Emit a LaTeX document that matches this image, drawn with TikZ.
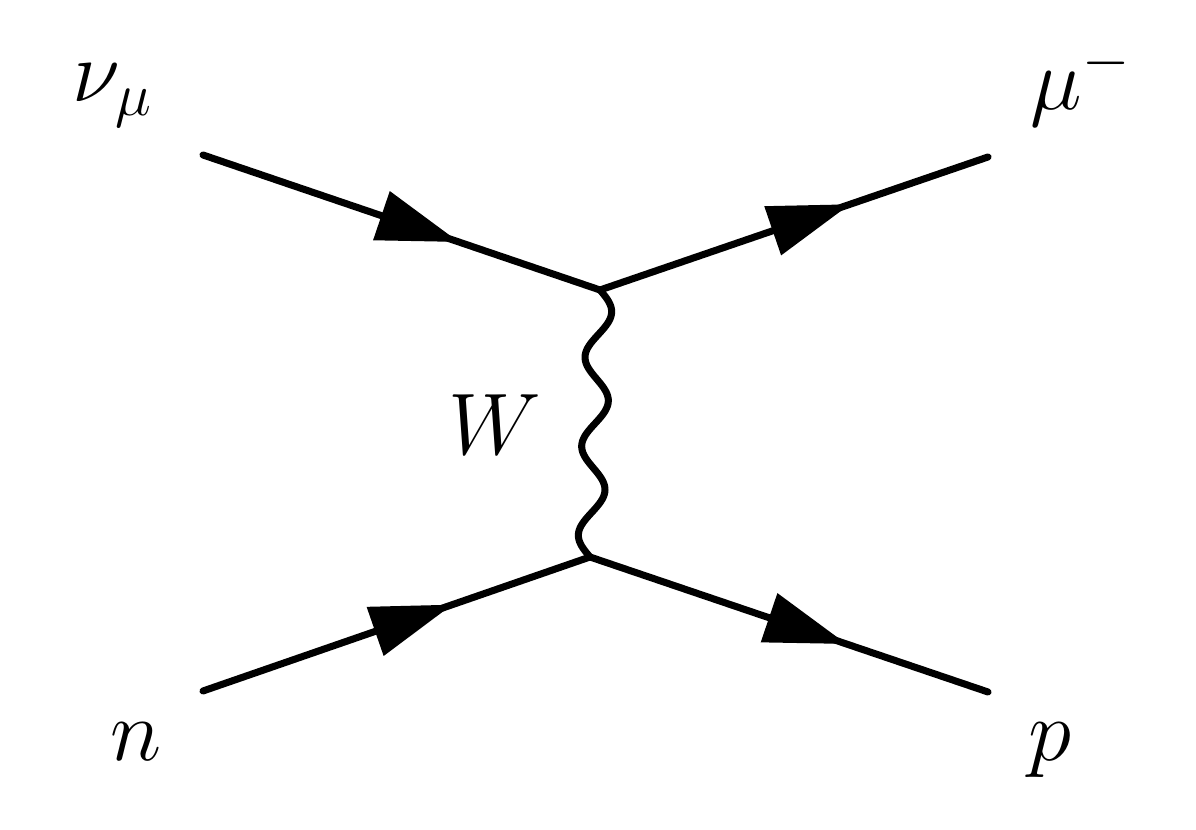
\documentclass[tikz,border=0pt]{standalone}
\usepackage{amssymb}
\usepackage{amsmath}
\usepackage{tikz}
\usetikzlibrary{calc, decorations.markings, arrows.meta}

\tikzset{
	fermion/.style={line width=2pt, line cap=round, postaction={decorate},
		decoration={markings, mark=at position 0.645 with {\arrow{Triangle[length=8.2mm,width=5mm]}}}},
	boson/.style={line width=2pt, line cap=round, line join=round},
	partlabel/.style={inner sep=0pt, anchor=base west, font=\fontsize{25}{30}\selectfont}
}

\begin{document}
\begin{tikzpicture}
	\useasboundingbox (0,0) rectangle (11.96,8.29);
	%
	\coordinate (nuin)  at (2.03,6.74);
	\coordinate (muout) at (9.88,6.72);
	\coordinate (nin)   at (2.03,1.38);
	\coordinate (pout)  at (9.88,1.37);
	\coordinate (vtop)  at (6.00,5.39);
	\coordinate (vbot)  at (5.90,2.72);
	%
	\node[partlabel] (nu) at (0.72,7.27)  {$\nu_\mu$};
	\node[partlabel] (mu) at (10.30,7.19) {$\mu^-$};
	\node[partlabel] (n)  at (1.10,0.69)  {$n$};
	\node[partlabel] (p)  at (10.28,0.69) {$p$};
	\node[partlabel] (W)  at (4.48,3.74)  {$W$};
	
	%incoming lines
	\draw[fermion] (nuin)--(vtop);		%nu--top vertex
	\draw[fermion] (nin)--(vbot);		%n--bottom vertex
	
	%outgoing lines
	\draw[fermion] (vtop)--(muout);		%top vertex--mu
	\draw[fermion] (vbot)--(pout);		%bottom vertex--p
	
	%exchanged boson, three full waves from top vertex to bottom vertex
	\draw[boson] let \p1=(vtop), \p2=(vbot) in plot[variable=\t, domain=0:1, samples=121, smooth] ({\x1+(\x2-\x1)*\t+3.55pt*sin(1080*\t)}, {\y1+(\y2-\y1)*\t});
	
	%\draw[help lines] (0,0) grid (12,8);
\end{tikzpicture}
\end{document}
